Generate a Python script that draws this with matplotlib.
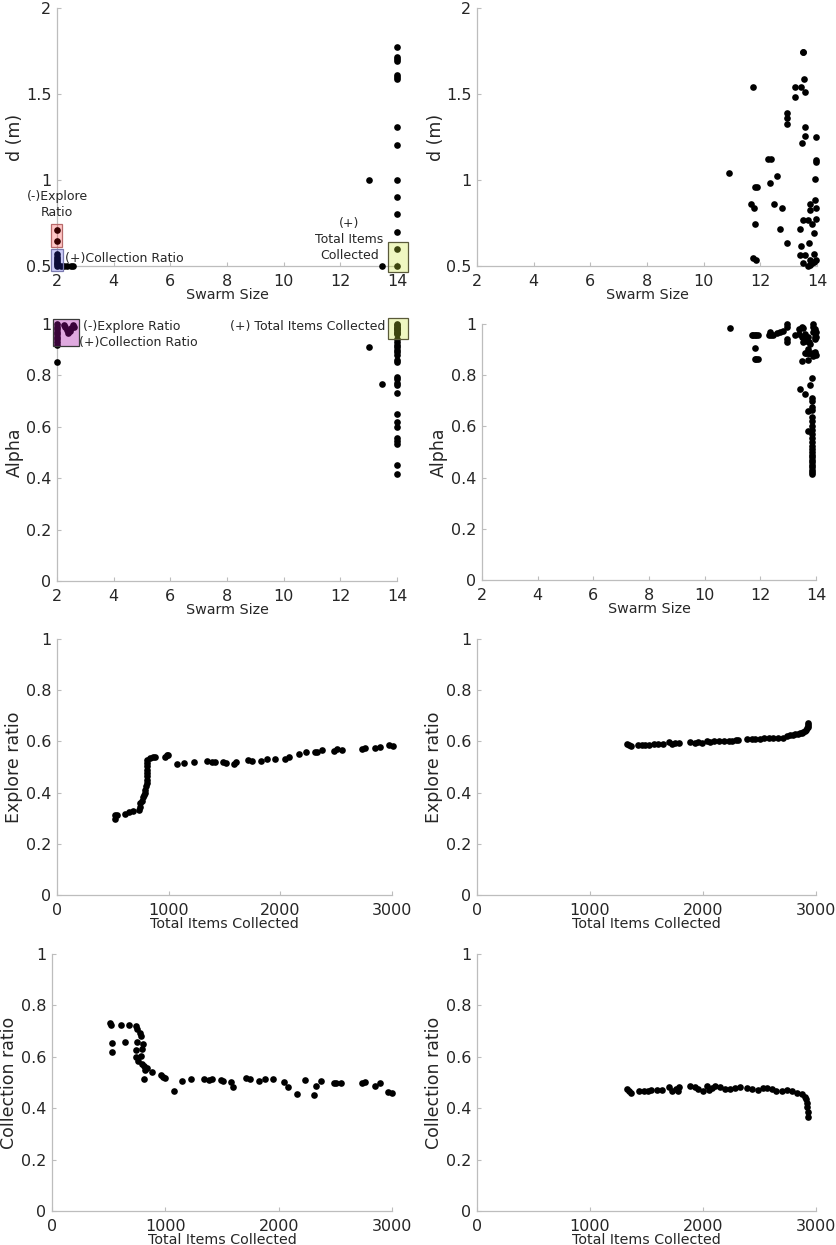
import matplotlib
matplotlib.use("Agg")
import matplotlib.pyplot as plt
from matplotlib.patches import Rectangle
from matplotlib.ticker import FuncFormatter

# ---------------- data ----------------
# Panel A: d (m) vs swarm size (left)
dA_x = [2, 2, 2, 2, 2, 2, 2, 2, 2, 2.15, 2.25, 2.35, 2.5, 2.55,
        13.0, 13.47,
        14, 14, 14, 14, 14, 14, 14, 14, 14, 14, 14, 14, 14, 14, 14]
dA_y = [0.708, 0.646, 0.57, 0.555, 0.54, 0.53, 0.52, 0.51, 0.50, 0.50, 0.50, 0.50, 0.50, 0.50,
        1.0, 0.50,
        1.773, 1.718, 1.703, 1.689, 1.611, 1.598, 1.586, 1.306, 1.203, 1.0, 0.9, 0.8, 0.7, 0.6, 0.5]

# Panel B: d (m) vs swarm size (right)
dB_x = [10.9, 11.73, 11.68, 11.76, 11.8, 11.8, 11.88, 11.75, 11.86,
        12.27, 12.36, 12.33, 12.59, 12.5, 12.76, 12.7, 12.95, 12.95, 12.95, 12.95,
        13.22, 13.22, 13.45, 13.49, 13.52, 13.55, 13.59, 13.59, 13.59, 13.47, 13.98, 13.98, 13.98,
        13.94, 13.92, 13.98, 13.77, 13.77, 13.98, 13.5, 13.68, 13.84, 13.91, 13.41, 13.71, 13.45,
        13.41, 13.59, 13.88, 13.49, 13.68, 13.77, 13.88, 13.98, 13.74, 13.82]
dB_y = [1.04, 1.543, 0.863, 0.84, 0.743, 0.957, 0.957, 0.547, 0.535,
        1.12, 1.12, 0.982, 1.021, 0.863, 0.84, 0.714, 1.388, 1.359, 1.326, 0.634,
        1.543, 1.483, 1.543, 1.744, 1.744, 1.59, 1.51, 1.306, 1.258, 1.213, 1.25, 1.116, 1.106,
        1.005, 0.883, 0.84, 0.86, 0.828, 0.774, 0.77, 0.77, 0.747, 0.694, 0.714, 0.634, 0.619,
        0.566, 0.566, 0.572, 0.52, 0.50, 0.504, 0.523, 0.533, 0.533, 0.52]

# Panel C: alpha vs swarm size (left)
aA_x = [2, 2, 2, 2, 2, 2, 2, 2, 2, 2,
        2.25, 2.3, 2.35, 2.4, 2.45, 2.5, 2.55, 2.6,
        13.0, 13.47,
        14, 14, 14, 14, 14, 14, 14, 14, 14, 14, 14, 14, 14, 14, 14, 14,
        14, 14, 14, 14, 14, 14, 14, 14, 14, 14, 14, 14, 14, 14, 14]
aA_y = [1.0, 0.99, 0.98, 0.97, 0.96, 0.95, 0.94, 0.93, 0.918, 0.853,
        0.998, 0.988, 0.975, 0.966, 0.972, 0.985, 0.995, 0.99,
        0.912, 0.765,
        1.0, 0.995, 0.99, 0.985, 0.98, 0.975, 0.97, 0.965, 0.96, 0.94, 0.93, 0.92, 0.91, 0.9, 0.89, 0.88,
        0.86, 0.853, 0.795, 0.785, 0.77, 0.762, 0.732, 0.65, 0.62, 0.6, 0.555, 0.545, 0.535, 0.45, 0.416]

# Panel D: alpha vs swarm size (right)
aB_x = [10.9, 11.7, 11.75, 11.8, 11.85, 11.9, 11.8, 11.8, 11.85, 11.9,
        12.3, 12.35, 12.4, 12.45, 12.6, 12.7, 12.8, 12.95, 12.95, 12.95, 12.95, 13.25,
        13.4, 13.4, 13.5, 13.5, 13.5, 13.55, 13.55, 13.6, 13.6, 13.6, 13.65, 13.65,
        13.7, 13.7, 13.7, 13.7, 13.75, 13.75, 13.8, 13.8, 13.9, 13.9, 13.9, 13.9, 13.9,
        13.95, 13.95, 13.95, 13.95, 14.0, 14.0, 14.0,
        13.44, 13.59, 13.84, 13.8, 13.85, 13.85, 13.72, 13.85, 13.85, 13.72,
        13.85, 13.85, 13.85, 13.85, 13.84, 13.85, 13.86, 13.85, 13.84, 13.85,
        13.86, 13.85, 13.84, 13.85, 13.86, 13.85, 13.84, 13.85, 13.85]
aB_y = [0.983, 0.957, 0.957, 0.957, 0.957, 0.957, 0.908, 0.863, 0.863, 0.863,
        0.957, 0.967, 0.957, 0.957, 0.964, 0.968, 0.974, 1.0, 0.99, 0.94, 0.928, 0.957,
        0.98, 0.96, 0.99, 0.95, 0.854, 0.985, 0.93, 0.96, 0.94, 0.888, 0.935, 0.888,
        0.95, 0.904, 0.86, 0.888, 0.93, 0.888, 0.92, 0.888, 1.0, 0.99, 0.97, 0.888, 0.875,
        0.98, 0.95, 0.94, 0.89, 0.97, 0.95, 0.88,
        0.745, 0.725, 0.788, 0.762, 0.71, 0.70, 0.66, 0.675, 0.665, 0.583,
        0.635, 0.62, 0.60, 0.585, 0.57, 0.555, 0.54, 0.525, 0.51, 0.50,
        0.49, 0.48, 0.47, 0.46, 0.45, 0.44, 0.43, 0.42, 0.413]

# Panel E: explore ratio vs total items (left)
eA_x = [516, 516, 537, 612, 642, 681, 737, 740, 746, 761, 770, 776, 785, 791, 800, 806,
        809, 809, 809, 809, 809, 809, 809, 830, 860, 881, 964, 985, 994,
        1075, 1140, 1224, 1343, 1388, 1412, 1487, 1516, 1582, 1606, 1710, 1746, 1827, 1881,
        1955, 2045, 2075, 2164, 2230, 2307, 2328, 2373, 2478, 2507, 2552, 2731, 2761, 2851,
        2896, 2970, 3009]
eA_y = [0.313, 0.296, 0.313, 0.317, 0.323, 0.329, 0.333, 0.345, 0.359, 0.369, 0.381, 0.391,
        0.40, 0.41, 0.424, 0.437, 0.45, 0.463, 0.476, 0.489, 0.502, 0.515, 0.528, 0.535, 0.538,
        0.541, 0.541, 0.546, 0.546,
        0.511, 0.515, 0.521, 0.525, 0.518, 0.521, 0.518, 0.515, 0.512, 0.518, 0.528, 0.525,
        0.525, 0.532, 0.532, 0.531, 0.538, 0.55, 0.557, 0.557, 0.558, 0.565, 0.563, 0.57,
        0.567, 0.57, 0.576, 0.574, 0.578, 0.584, 0.583]

# Panel F: explore ratio vs total items (right)
eB_x = [1326, 1341, 1365, 1429, 1460, 1490, 1520, 1562, 1606, 1650, 1695, 1724, 1754,
        1792, 1886, 1930, 1960, 1990, 2034, 2060, 2093, 2140, 2190, 2230, 2255, 2290, 2314,
        2387, 2431, 2460, 2505, 2540, 2580, 2620, 2667, 2711, 2741, 2770, 2800, 2815,
        2840, 2858, 2875, 2888, 2900, 2912, 2920, 2926, 2930, 2932]
eB_y = [0.589, 0.586, 0.581, 0.585, 0.585, 0.586, 0.587, 0.588, 0.589, 0.59, 0.596, 0.59,
        0.592, 0.594, 0.597, 0.594, 0.597, 0.592, 0.601, 0.598, 0.601, 0.601, 0.6, 0.602,
        0.601, 0.604, 0.607, 0.61, 0.61, 0.609, 0.611, 0.612, 0.614, 0.613, 0.612, 0.615,
        0.62, 0.624, 0.626, 0.628, 0.629, 0.631, 0.634, 0.637, 0.641, 0.646, 0.651, 0.657,
        0.663, 0.67]

# Panel G: collection ratio vs total items (left)
cA_x = [510, 519, 530, 530, 607, 642, 681, 740, 746, 754, 737, 740, 760, 775, 781, 784,
        790, 793, 805, 810, 810, 819, 840, 878, 958, 981, 996, 1076, 1144, 1226, 1341, 1388,
        1412, 1488, 1512, 1577, 1600, 1712, 1748, 1824, 1883, 1954, 2048, 2078, 2166, 2228,
        2308, 2331, 2376, 2485, 2508, 2549, 2735, 2765, 2853, 2897, 2962, 3000]
cA_y = [0.731, 0.725, 0.653, 0.62, 0.722, 0.659, 0.724, 0.719, 0.709, 0.659, 0.628, 0.598,
        0.585, 0.692, 0.679, 0.605, 0.631, 0.572, 0.65, 0.566, 0.514, 0.549, 0.558, 0.542,
        0.529, 0.52, 0.519, 0.468, 0.506, 0.514, 0.514, 0.51, 0.514, 0.508, 0.506, 0.503,
        0.482, 0.516, 0.514, 0.506, 0.514, 0.514, 0.503, 0.484, 0.454, 0.51, 0.452, 0.488,
        0.507, 0.499, 0.50, 0.497, 0.497, 0.503, 0.486, 0.497, 0.462, 0.458]

# Panel H: collection ratio vs total items (right)
cB_x = [1326, 1347, 1365, 1438, 1474, 1512, 1541, 1591, 1636, 1695, 1724, 1762, 1783, 1792,
        1886, 1930, 1960, 1998, 2034, 2049, 2078, 2110, 2152, 2196, 2240, 2284, 2328, 2387,
        2431, 2490, 2535, 2565, 2608, 2646, 2696, 2741, 2785, 2829, 2873, 2902, 2911, 2917,
        2923, 2929, 2932]
cB_y = [0.475, 0.465, 0.458, 0.466, 0.468, 0.466, 0.471, 0.471, 0.472, 0.484, 0.468, 0.475,
        0.466, 0.481, 0.488, 0.481, 0.475, 0.468, 0.488, 0.472, 0.478, 0.487, 0.481, 0.475,
        0.475, 0.479, 0.483, 0.478, 0.475, 0.472, 0.478, 0.479, 0.475, 0.468, 0.468, 0.470,
        0.465, 0.461, 0.455, 0.445, 0.435, 0.422, 0.403, 0.384, 0.365]

swarm_ticks = [2, 4, 6, 8, 10, 12, 14]
items_ticks = [0, 1000, 2000, 3000]
d_ticks = [0.5, 1, 1.5, 2]
ratio_ticks = [0, 0.2, 0.4, 0.6, 0.8, 1]

# ---------------- style ----------------
W, H = 837, 1245
fig = plt.figure(figsize=(W / 100, H / 100), dpi=100)
plt.rcParams['font.family'] = ['DejaVu Sans']
TXT = '#262626'
SPINE = '#bdbdbd'
fmt = FuncFormatter(lambda v, p: '%g' % v)


def make_ax(left, right, top, bottom):
    ax = fig.add_axes([left / W, 1 - bottom / H, (right - left) / W, (bottom - top) / H])
    for s in ['top', 'right']:
        ax.spines[s].set_visible(False)
    for s in ['left', 'bottom']:
        ax.spines[s].set_color(SPINE)
        ax.spines[s].set_linewidth(0.9)
    ax.tick_params(direction='in', length=3, width=0.8, color=SPINE,
                   labelsize=11.5, labelcolor=TXT)
    ax.tick_params(axis='x', pad=6)
    ax.tick_params(axis='y', pad=4)
    ax.xaxis.set_major_formatter(fmt)
    ax.yaxis.set_major_formatter(fmt)
    return ax, bottom - top, right - left


def labels(ax, hpx, xlabel, ylabel):
    ax.set_xlabel(xlabel, fontsize=10.3, color=TXT)
    ax.xaxis.set_label_coords(0.5, -29 / hpx)
    ax.xaxis.label.set_verticalalignment('center')
    ax.set_ylabel(ylabel, fontsize=12.5, color=TXT)
    ax.yaxis.label.set_verticalalignment('center')


def dots(ax, x, y):
    ax.plot(x, y, 'o', color='black', ms=4.8, mew=0, clip_on=False, zorder=3)


def box(ax, x0, x1, y0, y1, fc, alpha, ec):
    ax.add_patch(Rectangle((x0, y0), x1 - x0, y1 - y0, facecolor=fc, alpha=alpha,
                           edgecolor='none', clip_on=False, zorder=4))
    ax.add_patch(Rectangle((x0, y0), x1 - x0, y1 - y0, facecolor='none',
                           edgecolor=ec, lw=0.9, clip_on=False, zorder=5))


# ---- Row 1 ----
ax, hp, wp = make_ax(57, 397, 8, 266)
dots(ax, dA_x, dA_y)
ax.set_xlim(2, 14); ax.set_ylim(0.5, 2)
ax.set_xticks(swarm_ticks); ax.set_yticks(d_ticks)
labels(ax, hp, 'Swarm Size', 'd (m)')
ax.yaxis.set_label_coords(-42 / wp, 0.5)
box(ax, 1.80, 2.19, 0.611, 0.743, (1.0, 0.0, 0.0), 0.22, '#b86a6a')
box(ax, 1.80, 2.21, 0.471, 0.601, (0.2, 0.2, 0.9), 0.25, '#7a7ab0')
box(ax, 13.69, 14.38, 0.465, 0.64, (0.8, 0.9, 0.2), 0.3, '#5a5a3a')
ax.text(2.0, 0.858, '(-)Explore\nRatio', fontsize=9, color=TXT, ha='center', va='center',
        linespacing=1.3)
ax.text(2.3, 0.543, '(+)Collection Ratio', fontsize=9, color=TXT, ha='left', va='center')
ax.text(12.32, 0.656, '(+)\nTotal Items\nCollected', fontsize=9, color=TXT, ha='center',
        va='center', linespacing=1.3)

ax, hp, wp = make_ax(477, 817, 8, 266)
dots(ax, dB_x, dB_y)
ax.set_xlim(2, 14); ax.set_ylim(0.5, 2)
ax.set_xticks(swarm_ticks); ax.set_yticks(d_ticks)
labels(ax, hp, 'Swarm Size', 'd (m)')
ax.yaxis.set_label_coords(-41 / wp, 0.5)

# ---- Row 2 ----
ax, hp, wp = make_ax(57, 397, 324, 581)
dots(ax, aA_x, aA_y)
ax.set_xlim(2, 14); ax.set_ylim(0, 1)
ax.set_xticks(swarm_ticks); ax.set_yticks(ratio_ticks)
labels(ax, hp, 'Swarm Size', 'Alpha')
ax.yaxis.set_label_coords(-42 / wp, 0.5)
box(ax, 1.85, 2.78, 0.915, 1.02, (0.65, 0.05, 0.65), 0.35, '#3a3a3a')
box(ax, 13.69, 14.38, 0.94, 1.023, (0.8, 0.9, 0.2), 0.3, '#5a5a3a')
ax.text(2.91, 0.991, '(-)Explore Ratio', fontsize=9, color=TXT, ha='left', va='center')
ax.text(2.79, 0.928, '(+)Collection Ratio', fontsize=9, color=TXT, ha='left', va='center')
ax.text(13.6, 0.991, '(+) Total Items Collected', fontsize=9, color=TXT, ha='right',
        va='center')

ax, hp, wp = make_ax(482, 816, 324, 580)
dots(ax, aB_x, aB_y)
ax.set_xlim(2, 14); ax.set_ylim(0, 1)
ax.set_xticks(swarm_ticks); ax.set_yticks(ratio_ticks)
labels(ax, hp, 'Swarm Size', 'Alpha')
ax.yaxis.set_label_coords(-43.5 / wp, 0.5)

# ---- Row 3 ----
ax, hp, wp = make_ax(57, 392, 639, 895)
dots(ax, eA_x, eA_y)
ax.set_xlim(0, 3000); ax.set_ylim(0, 1)
ax.set_xticks(items_ticks); ax.set_yticks(ratio_ticks)
labels(ax, hp, 'Total Items Collected', 'Explore ratio')
ax.yaxis.set_label_coords(-43 / wp, 0.5)

ax, hp, wp = make_ax(477, 816, 639, 895)
dots(ax, eB_x, eB_y)
ax.set_xlim(0, 3000); ax.set_ylim(0, 1)
ax.set_xticks(items_ticks); ax.set_yticks(ratio_ticks)
labels(ax, hp, 'Total Items Collected', 'Explore ratio')
ax.yaxis.set_label_coords(-43 / wp, 0.5)

# ---- Row 4 ----
ax, hp, wp = make_ax(52, 392, 954, 1211)
dots(ax, cA_x, cA_y)
ax.set_xlim(0, 3000); ax.set_ylim(0, 1)
ax.set_xticks(items_ticks); ax.set_yticks(ratio_ticks)
labels(ax, hp, 'Total Items Collected', 'Collection ratio')
ax.yaxis.set_label_coords(-42.5 / wp, 0.5)

ax, hp, wp = make_ax(477, 816, 954, 1211)
dots(ax, cB_x, cB_y)
ax.set_xlim(0, 3000); ax.set_ylim(0, 1)
ax.set_xticks(items_ticks); ax.set_yticks(ratio_ticks)
labels(ax, hp, 'Total Items Collected', 'Collection ratio')
ax.yaxis.set_label_coords(-43 / wp, 0.5)

fig.savefig('out.png', dpi=100, facecolor='white')
